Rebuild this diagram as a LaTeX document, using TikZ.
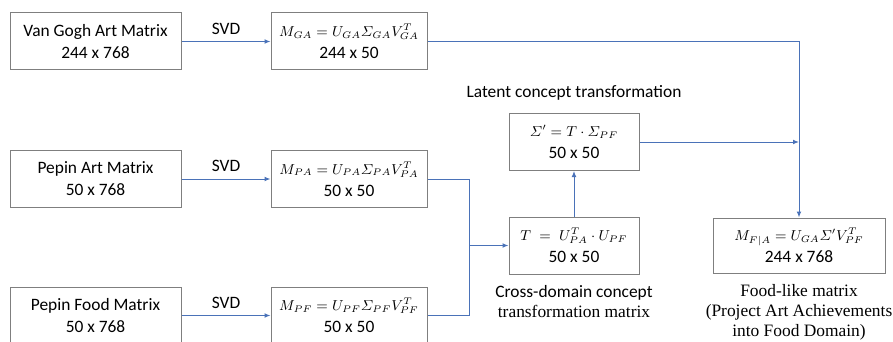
\documentclass[tikz,border=0pt]{standalone}
\usepackage{amsmath}
\usepackage{graphicx}
\usepackage{fontspec}
\setmainfont{Liberation Serif}
\setsansfont{Carlito}
\usetikzlibrary{arrows.meta}
\definecolor{flow}{HTML}{4A72B8}
\definecolor{frame}{HTML}{7F7F7F}
\newcommand{\eqline}[1]{\scalebox{0.8}{\fontsize{8.7}{11}\selectfont$#1$}}

\begin{document}
\begin{tikzpicture}[x=0.5pt,y=-0.5pt,>={Latex[length=3pt,width=2.4pt]},
  box/.style={draw=frame,line width=0.5pt,align=center,inner sep=0pt,font=\sffamily\fontsize{8.7}{11}\selectfont},
  wide/.style={box,minimum width=85.5pt,minimum height=28.5pt},
  svdbox/.style={box,minimum width=78pt,minimum height=28.5pt},
  small/.style={box,minimum width=65pt,minimum height=28.5pt},
  link/.style={flow,line width=0.5pt},
  tag/.style={font=\sffamily\fontsize{8.7}{11}\selectfont},
  caption/.style={align=center,font=\rmfamily\fontsize{8.7}{10}\selectfont}]
  \useasboundingbox (0,0) rectangle (893,342);
  % source matrices
  \node[wide] (vg) at (95.5,41.5) {Van Gogh Art Matrix\\244 x 768};
  \node[wide] (pa) at (95.5,179) {Pepin Art Matrix\\50 x 768};
  \node[wide] (pf) at (95.5,315.5) {Pepin Food Matrix\\50 x 768};
  % decompositions
  \node[svdbox] (mga) at (349,41.5) {\eqline{M_{GA}=U_{GA}\varSigma_{GA}V_{GA}^{T}}\\244 x 50};
  \node[svdbox] (mpa) at (349,179) {\eqline{M_{PA}=U_{PA}\varSigma_{PA}V_{PA}^{T}}\\50 x 50};
  \node[svdbox] (mpf) at (349,315.5) {\eqline{M_{PF}=U_{PF}\varSigma_{PF}V_{PF}^{T}}\\50 x 50};
  \foreach \a/\b in {vg/mga,pa/mpa,pf/mpf}{
    \draw[link,->] (\a.east) -- node[tag,above,text=black] {SVD} (\b.west);
  }
  % transformation
  \node[small] (t) at (574,245.5) {\eqline{T\;=\;U_{PA}^{T}\cdot U_{PF}}\\50 x 50};
  \node[small] (sp) at (574,142) {\eqline{\varSigma'=T\cdot\varSigma_{PF}}\\50 x 50};
  \node[tag,above=3pt] (lbS) at (sp.north) {Latent concept transformation};
  \node[caption,below=2pt] (lbT) at (t.south) {{\sffamily Cross-domain concept}\\transformation matrix};
  \coordinate (jn) at (469,245.5);
  \draw[link] (mpa.east) -| (jn);
  \draw[link,->] (mpf.east) -| (jn) -- (t.west);
  \draw[link,->] (t.north) -- (sp.south);
  % result
  \node[box,minimum width=86pt,minimum height=27.5pt] (mfa) at (799,245.5) {\eqline{M_{F|A}=U_{GA}\varSigma'V_{PF}^{T}}\\244 x 768};
  \node[caption,below=2pt] (lbF) at (mfa.south) {Food-like matrix\\(Project Art Achievements\\into Food Domain)};
  \draw[link,->] (mga.east) -| (mfa.north);
  \draw[link,->] (sp.east) -- (sp.east -| mfa.north);
\end{tikzpicture}
\end{document}
